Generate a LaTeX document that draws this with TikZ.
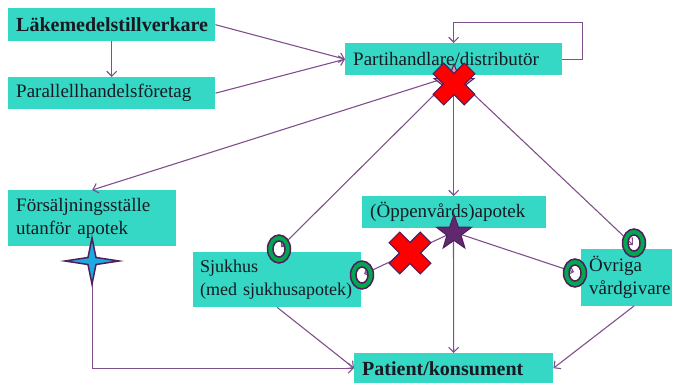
\documentclass[tikz,border=0pt]{standalone}
\usepackage{fontspec}
\setmainfont{Liberation Serif}
\usetikzlibrary{arrows.meta,shapes.geometric}
\definecolor{boxc}{RGB}{52,216,196}
\definecolor{linec}{RGB}{128,80,140}
\definecolor{dkp}{RGB}{80,30,90}
\definecolor{starp}{RGB}{96,40,110}
\definecolor{ringg}{RGB}{0,166,80}
\definecolor{xred}{RGB}{255,0,0}
\definecolor{pinkc}{RGB}{230,150,180}
\definecolor{blu}{RGB}{30,170,225}
\definecolor{txt}{RGB}{25,25,35}
\newcommand\myredx[1]{\draw[fill=xred, draw=dkp, line width=1.2pt, shift={#1}, rotate=45]
  (7.5,7.5) -- (7.5,22) -- (-7.5,22) -- (-7.5,7.5) -- (-22,7.5) -- (-22,-7.5) -- (-7.5,-7.5)
  -- (-7.5,-22) -- (7.5,-22) -- (7.5,-7.5) -- (22,-7.5) -- (22,7.5) -- cycle;}
\begin{document}
\begin{tikzpicture}[x=1pt,y=-1pt,
 box/.style={fill=boxc, anchor=north west, inner xsep=8pt, inner ysep=0pt, align=left,
   font=\fontsize{19}{23}\selectfont, text=txt},
 bigbold/.style={font=\fontsize{20}{23}\selectfont\bfseries},
 conn/.style={draw=linec, line width=1.1pt},
 arr/.style={conn, -{Straight Barb[length=5pt,width=10pt]}},
 ringw/.style={fill=white},
 ringb/.style={fill=ringg, draw=dkp, line width=1.5pt, even odd rule},
]
\useasboundingbox (0,0) rectangle (682,383);
% boxes
\node[box, bigbold, minimum width=207pt, minimum height=33pt, text width=191pt] (lt) at (8,8) {Läkemedelstillverkare};
\node[box, minimum width=207pt, minimum height=32pt, text width=191pt] (ph) at (8,77) {Parallellhandelsföretag};
\node[box, minimum width=217pt, minimum height=32pt, text width=201pt] (pd) at (345,43) {Partihandlare/distributör};
\node[box, minimum width=168pt, minimum height=56pt, text width=152pt] (fs) at (8,190) {Försäljningsställe\\utanför apotek};
\node[box, font=\fontsize{18}{23}\selectfont, minimum width=168pt, minimum height=55pt, text width=154pt, inner xsep=7pt] (sj) at (193,252) {Sjukhus\\\mbox{(med sjukhusapotek)}};
\node[box, minimum width=184pt, minimum height=32pt, text width=168pt] (ap) at (362,196) {(Öppenvårds)apotek};
\node[box, minimum width=91pt, minimum height=57pt, text width=75pt] (ov) at (581,249) {Övriga\\vårdgivare};
\node[box, bigbold, minimum width=199pt, minimum height=30pt, text width=183pt] (pk) at (354,353) {Patient/konsument};
% coordinates
\coordinate (r1) at (279,249);
\coordinate (r2) at (362,275);
\coordinate (r3) at (634,243);
\coordinate (r4) at (575,273);
\coordinate (r1e) at (281,247);
\coordinate (r2e) at (364,274);
\coordinate (r3e) at (633,245);
\coordinate (r4e) at (574,272);
\coordinate (apc) at (453.5,232);
\coordinate (ovb) at (634,306);
% ring centres
\foreach \r in {r1,r2,r3,r4}{\fill[ringw] (\r) ellipse [x radius=6pt, y radius=8pt];}
% connectors
\draw[arr] (lt.south) -- (ph.north);
\draw[arr] (lt.east) -- (pd.west);
\draw[arr] (ph.east) -- (pd.west);
\draw[arr] (pd.east) -- ++(20,0) -- ++(0,-37) -| (pd.north);
\draw[arr] (pd.south) -- (fs.north);
\draw[arr] (pd.south) -- (r1e);
\draw[arr] (pd.south) -- (r3e);
\draw[arr] (pd.south) -- (pd.south |- ap.north);
\draw[arr] (apc) -- (pk.north);
\draw[arr] (apc) -- (r2e);
\draw[arr] (apc) -- (r4e);
\draw[arr] (sj.south) -- (pk.west);
\draw[arr] (ovb) -- (pk.east);
\draw[arr] (fs.south) -- (fs.south |- pk.west) -- (pk.west);
% rings
\foreach \r in {r1,r2,r3,r4}{\path[ringb] (\r) ellipse [x radius=11.5pt, y radius=14pt] (\r) ellipse [x radius=6pt, y radius=8pt];}
% symbols
\node[star, star points=5, star point ratio=2.4, minimum size=42pt, inner sep=0pt, fill=pinkc, draw=dkp, line width=1pt] (pstar) at (454,85) {};
\myredx{(454,84)}
\myredx{(410,253)}
\node[star, star points=5, star point ratio=2.5, minimum size=37pt, inner sep=0pt, fill=starp, draw=dkp, line width=1pt] (astar) at (454,233) {};
\draw[fill=blu, draw=dkp, line width=1.5pt] (92,261) ++(27,0) -- ++(-23,-3.5) -- ++(-4,-19.5) -- ++(-4,19.5) -- ++(-23,3.5) -- ++(23,3.5) -- ++(4,19.5) -- ++(4,-19.5) -- cycle;
\end{tikzpicture}
\end{document}
